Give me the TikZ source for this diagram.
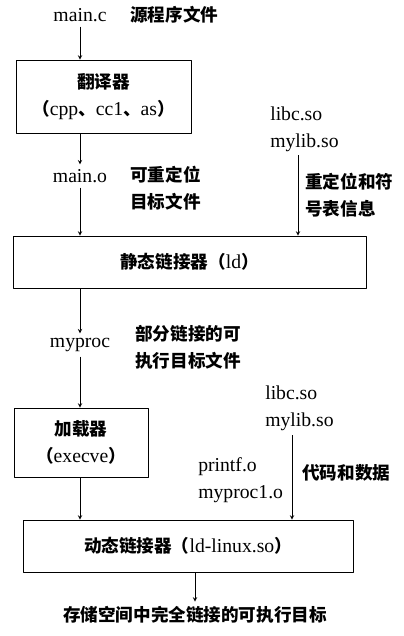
\documentclass[tikz,border=0pt]{standalone}
\usepackage{fontspec}
\setmainfont{Liberation Serif}
\newfontfamily\cjk{Noto Sans CJK SC}
\newcommand{\zh}[1]{{\cjk\bfseries\fontsize{12.5}{19}\selectfont #1}}
\begin{document}
\begin{tikzpicture}[x=0.25mm, y=-0.25mm, font=\fontsize{14}{19}\selectfont, line join=round, >=stealth,
	box/.style={draw, semithick, align=center, inner sep=0pt},
	lbl/.style={anchor=west, align=left, inner sep=0pt}]
	\useasboundingbox (0,0) rectangle (404,636);
	% translator
	\node (mainc) at (80,15) {main.c};
	\node[lbl] (srcfile) at (130,15) {\zh{源程序文件}};
	\node[box, minimum width=43.75mm, minimum height=18.25mm] (trans) at (103.5,96.5) {\zh{翻译器}\\\zh{（}cpp\zh{、}cc1\zh{、}as\zh{）}};
	\node (maino) at (80,176) {main.o};
	\node[lbl] (relfile) at (130,188) {\zh{可重定位}\\\zh{目标文件}};
	\node[lbl] (libsa) at (270,129) {libc.so\\mylib.so};
	\node[lbl] (symtab) at (305,195) {\zh{重定位和符}\\\zh{号表信息}};
	\coordinate (srca) at (298,155);
	% static linker
	\node[box, minimum width=88.25mm, minimum height=13mm] (static) at (189.5,262) {\zh{静态链接器（}ld\zh{）}};
	\node (myproc) at (80,345) {myproc};
	\node[lbl] (partfile) at (135,347) {\zh{部分链接的可}\\\zh{执行目标文件}};
	% loader
	\node[box, minimum width=33.5mm, minimum height=17.25mm] (loader) at (81,442.5) {\zh{加载器}\\\zh{（}execve\zh{）}};
	\node[lbl] (libsb) at (265,408) {libc.so\\mylib.so};
	\node[lbl] (objs) at (198,480) {printf.o\\myproc1.o};
	\node[lbl] (codedata) at (302,473) {\zh{代码和数据}};
	\coordinate (srcb) at (292,435);
	% dynamic linker
	\node[box, minimum width=82.5mm, minimum height=13mm] (dynamic) at (188,546) {\zh{动态链接器（}ld-linux.so\zh{）}};
	\node (result) at (195,615) {\zh{存储空间中完全链接的可执行目标}};
	% arrows
	\draw[->] (mainc) -- (mainc |- trans.north);
	\draw[->] (trans.south -| maino) -- (maino);
	\draw[->] (maino) -- (maino |- static.north);
	\draw[->] (srca) -- (srca |- static.north);
	\draw[->] (static.south -| myproc) -- (myproc);
	\draw[->] (myproc) -- (myproc |- loader.north);
	\draw[->] (srcb) -- (srcb |- dynamic.north);
	\draw[->] (loader.south -| myproc) -- (myproc |- dynamic.north);
	\draw[->] (dynamic.south -| result) -- (result);
\end{tikzpicture}
\end{document}
